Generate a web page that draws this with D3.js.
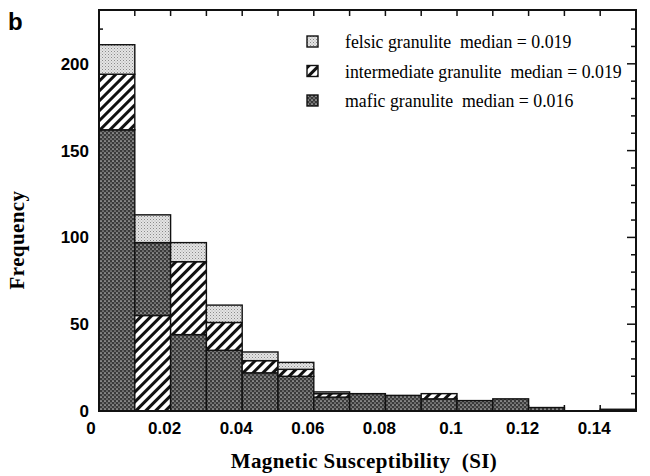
<!DOCTYPE html>
<html>
<head>
<meta charset="utf-8">
<script src="https://cdn.jsdelivr.net/npm/d3@7"></script>
<style>
  html, body { margin: 0; padding: 0; background: #fff; }
  svg { display: block; }
  text { white-space: pre; }
</style>
</head>
<body>
<svg id="chart" width="650" height="476"></svg>
<script>
// Histogram bins (left edge of each 0.01-wide bin)
const binStart = [0, 0.01, 0.02, 0.03, 0.04, 0.05, 0.06, 0.07, 0.08, 0.09, 0.10, 0.11, 0.12, 0.13, 0.14];
const binWidth = 0.01;

// Counts per bin for each rock type
const mafic        = [162, 42, 44, 35, 22, 20, 8, 10, 9, 7, 6, 7, 2, 0, 1];
const intermediate = [ 32, 55, 42, 16,  7,  4, 2,  0, 0, 3, 0, 0, 0, 0, 0];
const felsic       = [ 17, 16, 11, 10,  5,  4, 1,  0, 0, 0, 0, 0, 0, 0, 0];

// Order of the pieces in each bar, bottom to top
const defaultOrder = ["mafic", "intermediate", "felsic"];
const binOrder = [null, ["intermediate", "mafic", "felsic"], null, null, null, null, null, null, null, null, null, null, null, null, null];

// Axis ticks
const xTickLabels = [0, 0.02, 0.04, 0.06, 0.08, 0.1, 0.12, 0.14];
const xTickText = ["0", "0.02", "0.04", "0.06", "0.08", "0.1", "0.12", "0.14"];
const xMinorTicks = [0.01, 0.02, 0.03, 0.04, 0.05, 0.06, 0.07, 0.08, 0.09, 0.10, 0.11, 0.12, 0.13, 0.14];
const yTickLabels = [0, 50, 100, 150, 200];
const yMinorTicks = [10, 20, 30, 40, 50, 60, 70, 80, 90, 100, 110, 120, 130, 140, 150, 160, 170, 180, 190, 200, 210, 220];

// Legend entries
const legendKeys = ["felsic", "intermediate", "mafic"];
const legendText = ["felsic granulite  median = 0.019", "intermediate granulite  median = 0.019", "mafic granulite  median = 0.016"];

const series = { mafic, intermediate, felsic };

const svg = d3.select("#chart");
const x = d3.scaleLinear().domain([0, 0.15]).range([99, 636]);
const y = d3.scaleLinear().domain([0, 231]).range([411, 10]);

// Fill patterns
const defs = svg.append("defs");
const pf = defs.append("pattern").attr("id", "pat-felsic").attr("patternUnits", "userSpaceOnUse")
  .attr("width", 3).attr("height", 3);
pf.append("rect").attr("width", 3).attr("height", 3).attr("fill", "#e4e4e4");
pf.append("rect").attr("x", 0).attr("y", 0).attr("width", 1).attr("height", 1).attr("fill", "#8a8a8a");
pf.append("rect").attr("x", 1.5).attr("y", 1.5).attr("width", 1).attr("height", 1).attr("fill", "#a8a8a8");

const pm = defs.append("pattern").attr("id", "pat-mafic").attr("patternUnits", "userSpaceOnUse")
  .attr("width", 4).attr("height", 4);
pm.append("rect").attr("width", 4).attr("height", 4).attr("fill", "#3a3a3a");
pm.append("circle").attr("cx", 1).attr("cy", 1).attr("r", 0.85).attr("fill", "#c4c4c4");
pm.append("circle").attr("cx", 3).attr("cy", 3).attr("r", 0.85).attr("fill", "#9a9a9a");

const ph = defs.append("pattern").attr("id", "pat-intermediate").attr("patternUnits", "userSpaceOnUse")
  .attr("width", 7).attr("height", 7).attr("patternTransform", "rotate(45)");
ph.append("rect").attr("width", 7).attr("height", 7).attr("fill", "#fff");
ph.append("rect").attr("x", 0).attr("y", 0).attr("width", 3).attr("height", 7).attr("fill", "#111");

const fills = {
  felsic: "url(#pat-felsic)",
  intermediate: "url(#pat-intermediate)",
  mafic: "url(#pat-mafic)"
};

// Ticks drawn inside the frame (under the bars)
const ticks = svg.append("g").attr("stroke", "#111").attr("stroke-width", 1.5);
ticks.selectAll(".tt").data(xMinorTicks).join("line")
  .attr("x1", d => x(d)).attr("x2", d => x(d)).attr("y1", y(231)).attr("y2", y(231) + 6);
ticks.selectAll(".tb").data(xMinorTicks).join("line")
  .attr("x1", d => x(d)).attr("x2", d => x(d)).attr("y1", y(0)).attr("y2", y(0) - 6);
ticks.selectAll(".tl").data(yMinorTicks).join("line")
  .attr("x1", x(0)).attr("x2", d => x(0) + (d % 50 === 0 ? 8 : 4)).attr("y1", d => y(d)).attr("y2", d => y(d));
ticks.selectAll(".tr").data(yMinorTicks).join("line")
  .attr("x1", x(0.15)).attr("x2", d => x(0.15) - (d % 50 === 0 ? 9 : 5)).attr("y1", d => y(d)).attr("y2", d => y(d));

// Stacked bars
const segments = [];
binStart.forEach((b, i) => {
  let base = 0;
  (binOrder[i] || defaultOrder).forEach(key => {
    const v = series[key][i];
    if (v > 0) segments.push({ key, x0: b, x1: b + binWidth, y0: base, y1: base + v });
    base += v;
  });
});

svg.append("g").selectAll("rect").data(segments).join("rect")
  .attr("x", d => x(d.x0))
  .attr("width", d => x(d.x1) - x(d.x0))
  .attr("y", d => y(d.y1))
  .attr("height", d => y(d.y0) - y(d.y1))
  .attr("fill", d => fills[d.key])
  .attr("stroke", "#111")
  .attr("stroke-width", 1.4);

// Frame
svg.append("rect")
  .attr("x", x(0)).attr("y", y(231))
  .attr("width", x(0.15) - x(0)).attr("height", y(0) - y(231))
  .attr("fill", "none").attr("stroke", "#111").attr("stroke-width", 2);

// Tick labels
const sans = "'Liberation Sans', Arial, sans-serif";
const serif = "'Liberation Serif', 'Times New Roman', serif";
svg.append("g").selectAll("text").data(yTickLabels).join("text")
  .attr("x", 89).attr("y", d => y(d)).attr("dy", "0.35em")
  .attr("text-anchor", "end")
  .attr("font-family", sans).attr("font-weight", "bold").attr("font-size", 17)
  .text(d => d);

svg.append("g").selectAll("text").data(xTickLabels).join("text")
  .attr("x", (d, i) => x(d) - (i === 0 ? 8 : 6)).attr("y", 434)
  .attr("text-anchor", "middle")
  .attr("font-family", sans).attr("font-weight", "bold").attr("font-size", 17)
  .text((d, i) => xTickText[i]);

// Axis titles
svg.append("text")
  .attr("transform", "translate(24,240) rotate(-90)")
  .attr("text-anchor", "middle")
  .attr("font-family", serif).attr("font-weight", "bold").attr("font-size", 21)
  .attr("letter-spacing", 0.4)
  .text("Frequency");

svg.append("text")
  .attr("x", 364).attr("y", 468)
  .attr("text-anchor", "middle")
  .attr("font-family", serif).attr("font-weight", "bold").attr("font-size", 21)
  .attr("letter-spacing", 0.4)
  .text("Magnetic Susceptibility  (SI)");

// Panel letter
svg.append("text")
  .attr("x", 8).attr("y", 30)
  .attr("font-family", sans).attr("font-weight", "bold").attr("font-size", 24)
  .text("b");

// Legend
const legend = svg.append("g").selectAll("g").data(legendKeys).join("g")
  .attr("transform", (d, i) => `translate(307, ${36 + i * 29.5})`);
legend.append("rect")
  .attr("width", 11).attr("height", 11)
  .attr("fill", d => fills[d])
  .attr("stroke", "#111").attr("stroke-width", 1.4);
legend.append("text")
  .attr("x", 38).attr("y", 6).attr("dy", "0.35em")
  .attr("font-family", serif).attr("font-size", 17.8)
  .text((d, i) => legendText[i]);
</script>
</body>
</html>
